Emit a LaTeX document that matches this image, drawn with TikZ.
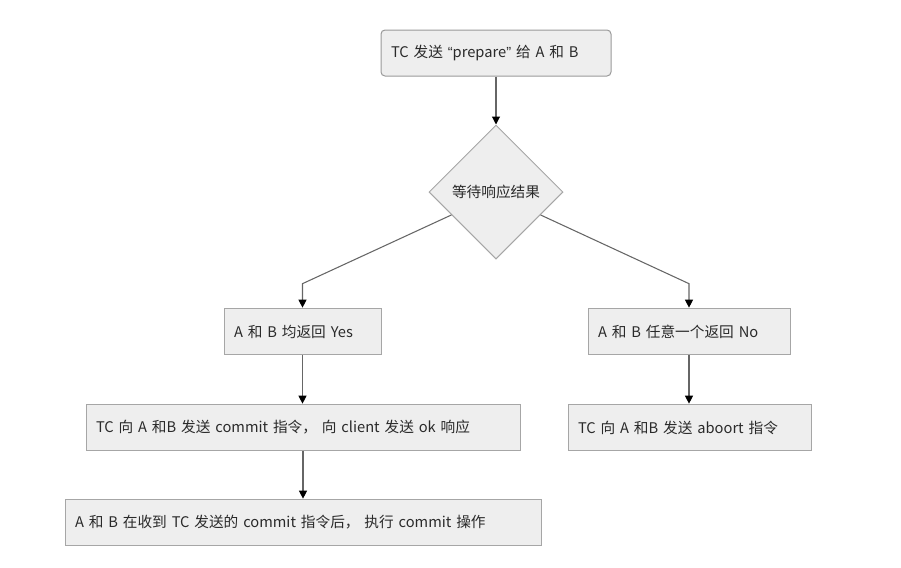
\documentclass[tikz,border=0pt]{standalone}
\usepackage{fontspec}
\setmainfont{Noto Sans CJK SC}
\newfontfamily\latinfont{Liberation Sans}
\usetikzlibrary{arrows.meta,calc,shapes.geometric}
\definecolor{boxfill}{HTML}{EEEEEE}
\definecolor{boxline}{HTML}{A6A6A6}
\definecolor{linkline}{HTML}{666666}
\definecolor{labeltext}{HTML}{2A2A2A}
\tikzset{
  box/.style={draw=boxline, fill=boxfill, line width=0.75pt, text=labeltext,
    inner xsep=7.5pt, inner ysep=0pt, minimum height=35pt, align=left,
    font=\fontsize{11}{12.5}\selectfont},
  link/.style={draw=linkline, line width=0.8pt,
    -{Triangle[width=6pt,length=6pt,color=black]}}
}
\begin{document}
\begin{tikzpicture}[x=0.75pt,y=-0.75pt]
      \useasboundingbox (0,0) rectangle (901,568);
      % boxes
      \node [box, rounded corners=3pt, draw=gray!80, text width=157.5pt, minimum height=34.5pt] (send) at (496,53)
         {TC 发送 {\latinfont “}prepare{\latinfont ”} 给 A 和 B};
      \node [box, shape=diamond, inner sep=0pt, minimum width=100.5pt, minimum height=100.5pt, text width=] (wait) at (496,192)
         {等待响应结果};
      \node [box, text width=102.75pt] (yes) at (302.5,331.5) {A 和 B 均返回 Yes};
      \node [box, text width=136.5pt] (no) at (689,331.5) {A 和 B 任意一个返回 No};
      \node [box, text width=310.5pt] (commit) at (303,427.5)
         {TC 向 A 和B 发送 commit 指令， 向 client 发送 ok 响应};
      \node [box, text width=167.25pt] (abort) at (689.5,427.5) {TC 向 A 和B 发送 aboort 指令};
      \node [box, text width=342pt] (done) at (303,522.5)
         {A 和 B 在收到 TC 发送的 commit 指令后， 执行 commit 操作};
      % connectors
      \coordinate (wl) at ($(wait.west)!0.34!(wait.south)$);
      \coordinate (wr) at ($(wait.east)!0.34!(wait.south)$);
      \draw [link] (send.south) -- (wait.north);
      \draw [link] (wl) -- ([yshift=18pt]yes.north) -- (yes.north);
      \draw [link] (wr) -- ([yshift=18pt]no.north) -- (no.north);
      \draw [link] (yes.south) -- (yes.south |- commit.north);
      \draw [link] (commit.south) -- (commit.south |- done.north);
      \draw [link] (no.south) -- (no.south |- abort.north);
\end{tikzpicture}
\end{document}
